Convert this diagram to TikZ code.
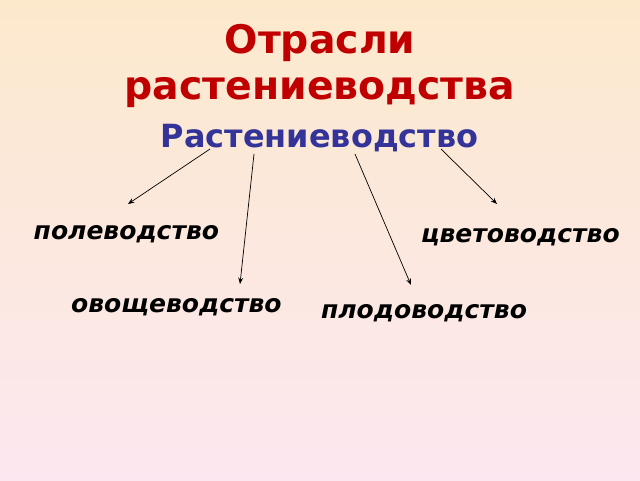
\documentclass[tikz,border=0pt]{standalone}
\usepackage{fontspec}
\setmainfont{DejaVu Sans}
\usepackage{xcolor}
\usetikzlibrary{arrows.meta}
\definecolor{titlered}{RGB}{192,0,0}
\definecolor{mainblue}{RGB}{51,51,153}
\definecolor{bgtop}{RGB}{252,233,204}
\definecolor{bgbottom}{RGB}{252,231,240}

\begin{document}
\begin{tikzpicture}[
    branch/.style={inner sep=0pt, anchor=base, font=\fontsize{17.8}{22}\selectfont\bfseries\itshape},
    link/.style={-{Stealth[length=4.5pt,width=3.5pt]}, line width=0.5pt}
]

\useasboundingbox (0,0) rectangle (16,12);
\fill[top color=bgtop, bottom color=bgbottom] (0,0) rectangle (16,12);

\node[inner sep=0pt, anchor=base, align=center, text=titlered, font=\fontsize{28}{33}\selectfont\bfseries] (title) at (8,9.5) {Отрасли\\растениеводства};
\node[inner sep=0pt, anchor=base, text=mainblue, font=\fontsize{22.7}{27}\selectfont\bfseries] (main) at (7.99,8.3) {Растениеводство};

\node[branch] (pole) at (3.16,6.025) {полеводство};
\node[branch] (tsvet) at (13.01,5.95) {цветоводство};
\node[branch] (ovosh) at (4.41,4.2) {овощеводство};
\node[branch] (plod) at (10.6,4.05) {плодоводство};

\draw[link] ([shift={(-2.74,-0.025)}]main.base) -- ([shift={(0.04,0.875)}]pole.base);
\draw[link] ([shift={(-1.64,-0.15)}]main.base) -- ([shift={(1.59,0.7)}]ovosh.base);
\draw[link] ([shift={(0.885,-0.15)}]main.base) -- ([shift={(-0.325,0.825)}]plod.base);
\draw[link] ([shift={(3.035,-0.025)}]main.base) -- ([shift={(-0.585,0.95)}]tsvet.base);

\end{tikzpicture}
\end{document}
